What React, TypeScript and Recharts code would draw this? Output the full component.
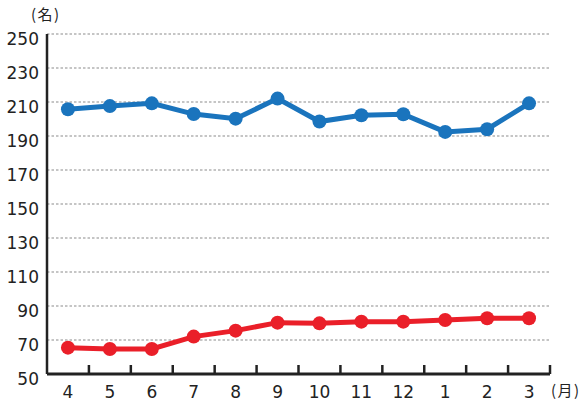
import React from 'react';
import { LineChart, Line, XAxis, YAxis, CartesianGrid } from 'recharts';

const months = ['4', '5', '6', '7', '8', '9', '10', '11', '12', '1', '2', '3'];
const blueSeries = [205.7, 207.6, 209.2, 202.9, 200.2, 212, 198.5, 202.2, 202.8, 192.4, 194, 209.2];
const redSeries = [65.5, 64.7, 64.7, 72, 75.5, 80.2, 79.8, 80.8, 80.8, 81.8, 82.8, 82.8];
const yTicks = [50, 70, 90, 110, 130, 150, 170, 190, 210, 230, 250];

const data = months.map((m, i) => ({ month: m, blue: blueSeries[i], red: redSeries[i] }));

const W = 581;
const H = 403;
const LEFT = 47;
const RIGHT = 550;
const TOP = 34;
const AXIS_Y = 374;
const BW = (RIGHT - LEFT) / months.length;

const numFont = '"DejaVu Sans", sans-serif';
const jpFont = '"Noto Sans CJK JP", sans-serif';

const XTick = (props: any) => {
  const { x, payload } = props;
  return (
    <g>
      <line x1={x + BW / 2} y1={AXIS_Y} x2={x + BW / 2} y2={AXIS_Y - 9} stroke="#222" strokeWidth={2.5} />
      <text x={x} y={398} textAnchor="middle" fontSize={17} fill="#222" fontFamily={numFont}>
        {payload.value}
      </text>
    </g>
  );
};

const YTick = (props: any) => {
  const { y, payload } = props;
  return (
    <text x={39} y={y + 10.5} textAnchor="end" fontSize={17} fill="#222" fontFamily={numFont}>
      {payload.value}
    </text>
  );
};

export default function App() {
  return (
    <div style={{ position: 'absolute', left: 0, top: 0, width: W, height: H, background: '#fff', overflow: 'hidden' }}>
      <LineChart
        width={W}
        height={H}
        data={data}
        margin={{ top: TOP, right: W - RIGHT, bottom: 0, left: 0 }}
      >
        <CartesianGrid
          vertical={false}
          stroke="#8c8c8c"
          strokeWidth={1.2}
          strokeDasharray="2.5 2"
        />
        <XAxis
          dataKey="month"
          height={H - AXIS_Y}
          padding={{ left: BW / 2, right: BW / 2 }}
          axisLine={{ stroke: '#222', strokeWidth: 3 }}
          tickLine={false}
          tick={<XTick />}
          interval={0}
        />
        <YAxis
          width={LEFT}
          domain={[50, 250]}
          ticks={yTicks}
          interval={0}
          axisLine={{ stroke: '#222', strokeWidth: 2.5 }}
          tickLine={false}
          tick={<YTick />}
        />
        <Line
          dataKey="blue"
          stroke="#1a74bd"
          strokeWidth={5}
          dot={{ r: 7, fill: '#1a74bd', stroke: '#1a74bd', strokeWidth: 0 }}
          isAnimationActive={false}
        />
        <Line
          dataKey="red"
          stroke="#ea1f29"
          strokeWidth={5}
          dot={{ r: 7, fill: '#ea1f29', stroke: '#ea1f29', strokeWidth: 0 }}
          isAnimationActive={false}
        />
      </LineChart>
      <div
        style={{
          position: 'absolute',
          left: 31,
          top: 4,
          fontSize: 15,
          fontFamily: jpFont,
          color: '#222',
          lineHeight: '20px',
          letterSpacing: '1.5px',
          whiteSpace: 'nowrap',
        }}
      >
        (名)
      </div>
      <div
        style={{
          position: 'absolute',
          left: 551,
          top: 380,
          fontSize: 15,
          fontFamily: jpFont,
          color: '#222',
          lineHeight: '20px',
          letterSpacing: '1.5px',
          whiteSpace: 'nowrap',
        }}
      >
        (月)
      </div>
    </div>
  );
}
